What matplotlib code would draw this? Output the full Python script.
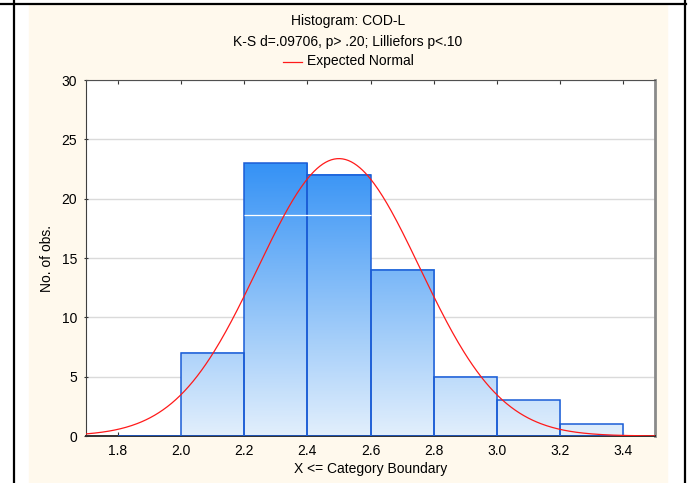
import matplotlib
matplotlib.use("Agg")
import matplotlib.pyplot as plt
import matplotlib.patches as mpatches
from matplotlib.colors import LinearSegmentedColormap, Normalize
import numpy as np

plt.rcParams["font.family"] = ["Liberation Sans", "DejaVu Sans"]

# ── data ─────────────────────────────────────────────────────────────────────
BIN_EDGES = [1.8, 2.0, 2.2, 2.4, 2.6, 2.8, 3.0, 3.2, 3.4]
COUNTS    = [0, 7, 23, 22, 14, 5, 3, 1]
NORM_MEAN = 2.5
NORM_SD   = 0.256
N_OBS     = sum(COUNTS)
XTICKS    = [1.8, 2.0, 2.2, 2.4, 2.6, 2.8, 3.0, 3.2, 3.4]
YTICKS    = [0, 5, 10, 15, 20, 25, 30]
GLITCH_Y  = 18.6          # thin white line seen across two bars
GLITCH_X  = (2.2, 2.6)

TITLE1 = "Histogram: COD-L"
TITLE2 = "K-S d=.09706, p> .20; Lilliefors p<.10"

CREAM = "#FFF9ED"
grad = LinearSegmentedColormap.from_list("bargrad", ["#E2EFFC", "#3592F5"])

fig = plt.figure(figsize=(6.91, 4.83), dpi=100)
fig.patch.set_facecolor("white")

# cream panel + frame lines like the source page
fig.add_artist(mpatches.Rectangle((29 / 691, 0), (667 - 29) / 691, (483 - 4) / 483,
                                  transform=fig.transFigure, color=CREAM, zorder=-10))
fig.add_artist(plt.Line2D([0, 686 / 691], [1 - 3.5 / 483] * 2, transform=fig.transFigure,
                          color="black", lw=1.6))
fig.add_artist(plt.Line2D([14 / 691] * 2, [0, 1], transform=fig.transFigure,
                          color="black", lw=1.6))
fig.add_artist(plt.Line2D([685 / 691] * 2, [0, 1], transform=fig.transFigure,
                          color="black", lw=1.6))

ax = fig.add_axes([86 / 691, 1 - 436 / 483, (655 - 86) / 691, (436 - 80) / 483])
ax.set_facecolor("white")
ax.set_xlim(1.7, 3.5)
ax.set_ylim(0, 30)

top = max(COUNTS)
norm = Normalize(0, top)
for left, right, h in zip(BIN_EDGES[:-1], BIN_EDGES[1:], COUNTS):
    if h > 0:
        col = np.linspace(0, h, 200).reshape(-1, 1)
        ax.imshow(col, extent=[left, right, 0, h], origin="lower", cmap=grad, norm=norm,
                  aspect="auto", interpolation="bilinear", zorder=2)
    ax.add_patch(mpatches.Rectangle((left, 0), right - left, h, fill=False,
                                    edgecolor="#1A5CD6", lw=1.1, zorder=3))

ax.hlines(GLITCH_Y, *GLITCH_X, color="white", lw=0.9, zorder=3.5)

xs = np.linspace(1.7, 3.5, 400)
bw = BIN_EDGES[1] - BIN_EDGES[0]
ys = N_OBS * bw / (NORM_SD * np.sqrt(2 * np.pi)) * np.exp(-0.5 * ((xs - NORM_MEAN) / NORM_SD) ** 2)
ax.plot(xs, ys, color="#FF1A1A", lw=0.9, zorder=4)

ax.set_aspect("auto")
ax.set_xticks(XTICKS)
ax.set_xticklabels([f"{v:.1f}" for v in XTICKS])
ax.set_yticks(YTICKS)
ax.tick_params(axis="x", direction="in", length=3, top=True, labelsize=10, pad=6, color="#333")
ax.tick_params(axis="y", direction="inout", length=3, labelsize=10, pad=5, color="#333")
ax.yaxis.grid(True, color="#DADADA", lw=1.0, zorder=0)
ax.set_axisbelow(True)

ax.spines["left"].set_color("#404040")
ax.spines["top"].set_color("#505050")
ax.spines["right"].set_color("#8A8A8A")
ax.spines["right"].set_linewidth(2.0)
ax.spines["bottom"].set_color("#303030")
ax.spines["bottom"].set_linewidth(1.4)

ax.set_xlabel("X <= Category Boundary", fontsize=10, labelpad=3)
ax.set_ylabel("No. of obs.", fontsize=10, labelpad=5)

cx = 348 / 691
fig.text(cx, 1 - 21 / 483, TITLE1, ha="center", va="center", fontsize=10)
fig.text(cx, 1 - 42 / 483, TITLE2, ha="center", va="center", fontsize=10)
fig.add_artist(plt.Line2D([283 / 691, 302 / 691], [1 - 62 / 483] * 2,
                          transform=fig.transFigure, color="#FF1A1A", lw=0.9))
fig.text(307 / 691, 1 - 61.5 / 483, "Expected Normal", ha="left", va="center", fontsize=10)

fig.savefig("out.png", dpi=100)
